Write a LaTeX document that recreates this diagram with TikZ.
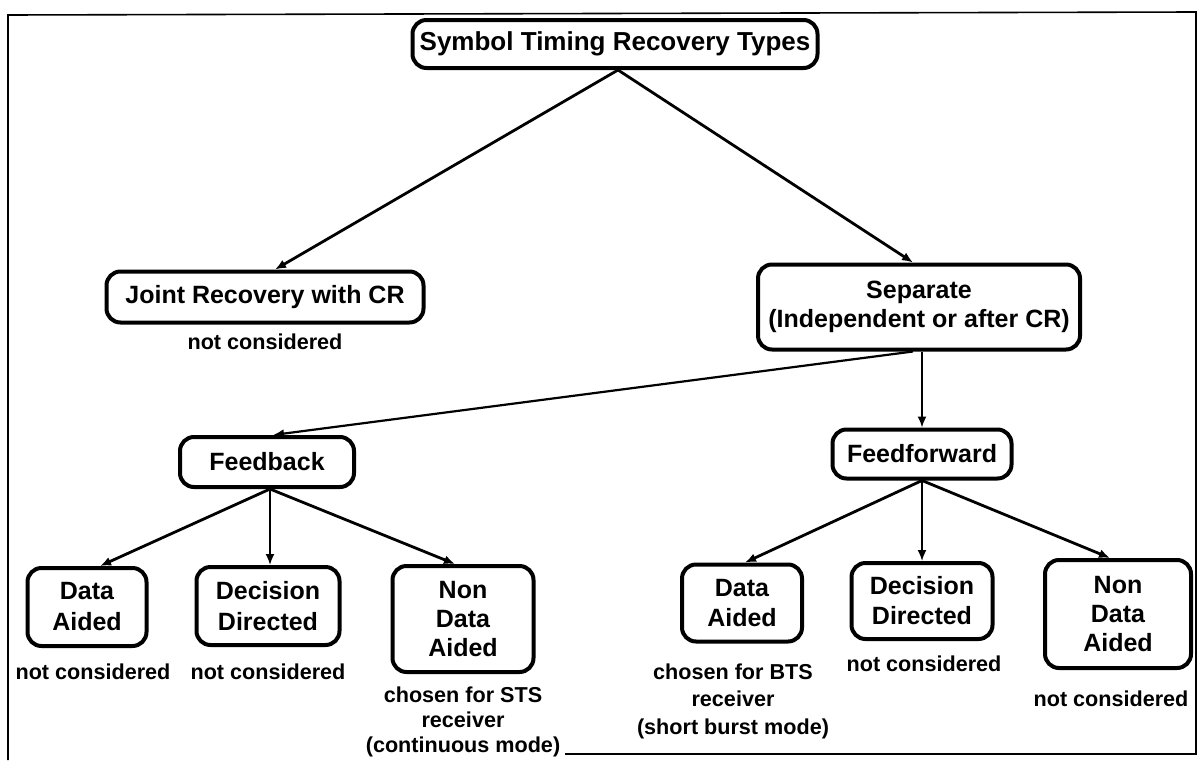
\documentclass[tikz,border=0pt]{standalone}
\usepackage{fontspec}
\setmainfont{Liberation Sans}
\usetikzlibrary{arrows.meta}
\begin{document}
\begin{tikzpicture}[x=0.5pt,y=-0.5pt,
  box/.style={draw, line width=2pt, rounded corners=7pt, align=center, inner sep=0pt,
    font=\bfseries\fontsize{12.5}{14.5}\selectfont},
  note/.style={align=center, inner sep=0pt, font=\bfseries\fontsize{10.8}{13}\selectfont},
  tip/.style={-{Latex[length=5.5pt,width=4.5pt]}},
  conn/.style={tip, line width=1.4pt},
  vconn/.style={tip, line width=0.9pt},
  mconn/.style={tip, line width=1.1pt},
]
\useasboundingbox (0,0) rectangle (1198,760);
\draw[line width=0.8pt] (565,754) -- (1196,754) -- (1196,12) -- (8,15) -- (8,760);

\node[box, minimum width=202.5pt, minimum height=24pt, font=\bfseries\fontsize{13}{15}\selectfont] (top) at (615,44) {Symbol Timing Recovery Types};
\node[box, minimum width=158.5pt, minimum height=25.5pt] (joint) at (265,297) {Joint Recovery with CR};
\node[box, minimum width=161pt, minimum height=42.5pt] (sep) at (919,307) {Separate\\(Independent or after CR)};
\node[box, minimum width=87pt, minimum height=25pt] (fb) at (267,462) {Feedback};
\node[box, minimum width=89.5pt, minimum height=24.5pt] (ff) at (922,454) {Feedforward};

\node[box, minimum width=59.5pt, minimum height=39pt, font=\bfseries\fontsize{12.5}{15.5}\selectfont] (dal) at (87,607) {Data\\Aided};
\node[box, minimum width=71.5pt, minimum height=39pt, font=\bfseries\fontsize{12.5}{15.5}\selectfont] (ddl) at (268,606) {Decision\\Directed};
\node[box, minimum width=70.5pt, minimum height=53pt] (ndal) at (463,619) {Non\\Data\\Aided};
\node[box, minimum width=60pt, minimum height=38.5pt, font=\bfseries\fontsize{12.5}{15}\selectfont] (dar) at (742,603) {Data\\Aided};
\node[box, minimum width=70.5pt, minimum height=38pt, font=\bfseries\fontsize{12.5}{15}\selectfont] (ddr) at (922,601) {Decision\\Directed};
\node[box, minimum width=73pt, minimum height=54pt] (ndar) at (1118,614) {Non\\Data\\Aided};

\node[note] (notejoint) at (265,342) {not considered};
\node[note] (notedal) at (93,672) {not considered};
\node[note] (noteddl) at (268,672) {not considered};
\node[note, font=\bfseries\fontsize{10.8}{12.5}\selectfont] (notendal) at (463,722) {chosen for STS\\receiver\\(continuous mode)};
\node[note, font=\bfseries\fontsize{10.8}{13.75}\selectfont] (notedar) at (733,701) {chosen for BTS\\receiver\\(short burst mode)};
\node[note] (noteddr) at (924,664) {not considered};
\node[note] (notendar) at (1111,699) {not considered};

\draw[conn] ([xshift=1.5pt]top.south) -- ([xshift=5pt]joint.north);
\draw[conn] ([xshift=1.5pt]top.south) -- ([xshift=-3pt]sep.north);
\draw[mconn] ([xshift=-3pt]sep.south) -- ([xshift=3pt]fb.north);
\draw[vconn] (sep.south -| ff.north) -- (ff.north);

\draw[conn] ([xshift=1.5pt]fb.south) -- ([xshift=6.5pt]dal.north);
\draw[vconn] ([xshift=1.5pt]fb.south) -- ([xshift=1pt]ddl.north);
\draw[conn] ([xshift=1.5pt]fb.south) -- ([xshift=-4pt]ndal.north);

\draw[conn] (ff.south) -- ([xshift=1.5pt]dar.north);
\draw[vconn] (ff.south) -- (ddr.north);
\draw[conn] (ff.south) -- ([xshift=-4pt]ndar.north);
\end{tikzpicture}
\end{document}
